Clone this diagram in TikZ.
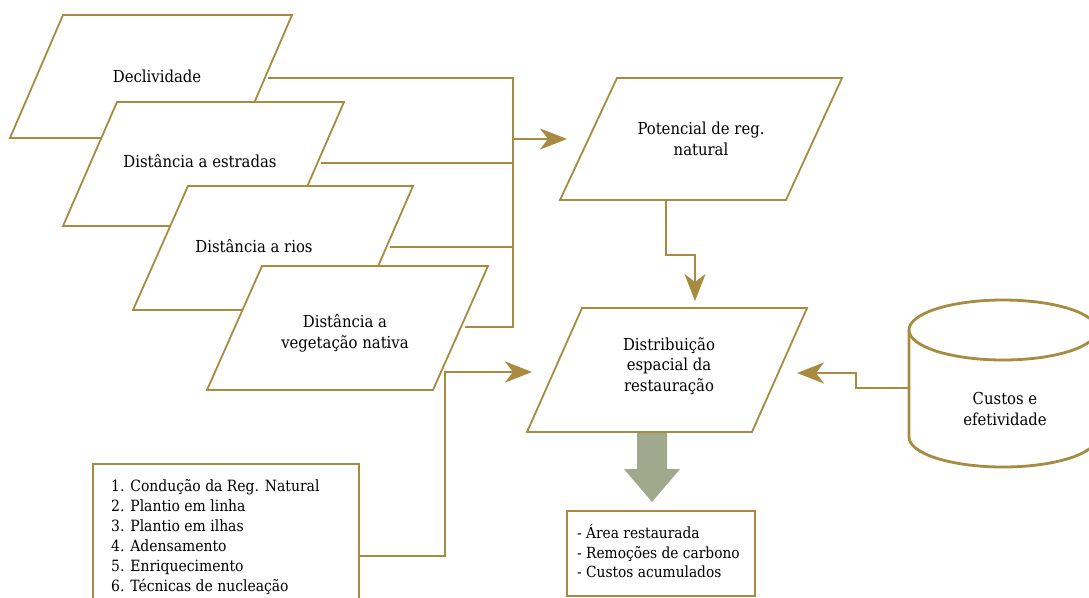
\documentclass[tikz,border=0pt]{standalone}
\usepackage{fontspec}
\setmainfont{DejaVu Serif Condensed}
\usetikzlibrary{arrows.meta}
\definecolor{gold}{RGB}{166,139,64}
\definecolor{sage}{RGB}{160,169,140}
\begin{document}
\begin{tikzpicture}[x=1pt,y=-1pt,
  para/.style={draw=gold, line width=1.8pt, fill=white, line join=miter},
  lbl/.style={font=\fontsize{16.5}{20.5}\selectfont, align=center, inner sep=0pt},
  lst/.style={font=\fontsize{15.5}{20}\selectfont, align=left, inner sep=0pt},
  outl/.style={font=\fontsize{15.3}{19.8}\selectfont, align=left, inner sep=0pt},
  conn/.style={draw=gold, line width=2.8pt},
  arr/.style={conn, -{Stealth[length=27pt,width=21pt,inset=8pt]}},
  boxst/.style={draw=gold, line width=1.9pt, fill=white},
  cyl/.style={draw=gold, line width=2.8pt, fill=white}
]
\useasboundingbox (0,0) rectangle (1089,597);

% input parallelograms
\path[para] (63,15) -- (292,15) -- (239,138) -- (10,138) -- cycle;
\node[lbl, anchor=base] (decl) at (157,82) {Declividade};
\path[para] (117,102) -- (344,102) -- (290,226) -- (63,226) -- cycle;
\node[lbl, anchor=base] (estr) at (200,167) {Distância a estradas};
\path[para] (188,186) -- (413,186) -- (359,310) -- (133,310) -- cycle;
\node[lbl, anchor=base] (rios) at (254,252) {Distância a rios};
\path[para] (262,266) -- (488,266) -- (433,390) -- (207,390) -- cycle;
\node[lbl] (veg) at (345,333) {Distância a\\vegetação nativa};

% potencial
\path[para] (617,78) -- (842,78) -- (786,200) -- (560,200) -- cycle;
\node[lbl] (pot) at (701,139) {Potencial de reg.\\natural};

% thick arrow
\path[fill=sage] (637,430) -- (667,430) -- (667,469) -- (680,469) -- (652,502) -- (624,469) -- (637,469) -- cycle;

% distribuicao
\path[para] (582,308) -- (807,308) -- (752,432) -- (527,432) -- cycle;
\node[lbl] (dist) at (669,366) {Distribuição\\espacial da\\restauração};

% cylinder
\path[cyl] (909,330) -- (909,437) arc[start angle=180, end angle=0, x radius=94, y radius=30] -- (1097,330);
\path[cyl] (1003,330) ellipse [x radius=94, y radius=30];
\node[lbl] (cust) at (1005,409) {Custos e\\efetividade};

% list box
\path[boxst] (93,464) rectangle (359,610);
\node[lst, anchor=north west] (lista) at (111,479) {1. Condução da Reg. Natural\\2. Plantio em linha\\3. Plantio em ilhas\\4. Adensamento\\5. Enriquecimento\\6. Técnicas de nucleação};

% output box
\path[boxst, line width=1.6pt] (567,511) rectangle (755,596);
\node[outl, anchor=north west] (saida) at (577,524) {- Área restaurada\\- Remoções de carbono\\- Custos acumulados};

% connector anchors
\coordinate (decl-out) at (268,78);
\coordinate (estr-out) at (321,163);
\coordinate (rios-out) at (390,247);
\coordinate (veg-out) at (465,327);
\coordinate (bus-top) at (513,78);
\coordinate (bus-bot) at (513,327);
\coordinate (bus-mid) at (513,139);
\coordinate (pot-in) at (567,139);
\coordinate (pot-out) at (666,200);
\coordinate (dist-top) at (695,301);
\coordinate (lista-out) at (359,556);
\coordinate (dist-left) at (532,372);
\coordinate (cust-out) at (909,388);
\coordinate (dist-right) at (797,373);

\draw[conn, line join=miter] (decl-out) -- (bus-top) -- (bus-bot) -- (veg-out);
\draw[conn] (estr-out) -- (estr-out -| bus-top);
\draw[conn] (rios-out) -- (rios-out -| bus-top);
\draw[arr] (bus-mid) -- (pot-in);
\draw[arr, line join=miter] (pot-out) -- (666,255) -- (695,255) -- (dist-top);
\draw[arr, line join=miter] (lista-out) -- (445,556) -- (445,372) -- (dist-left);
\draw[arr, line join=miter] (cust-out) -- (856,388) -- (856,373) -- (dist-right);
\end{tikzpicture}
\end{document}
